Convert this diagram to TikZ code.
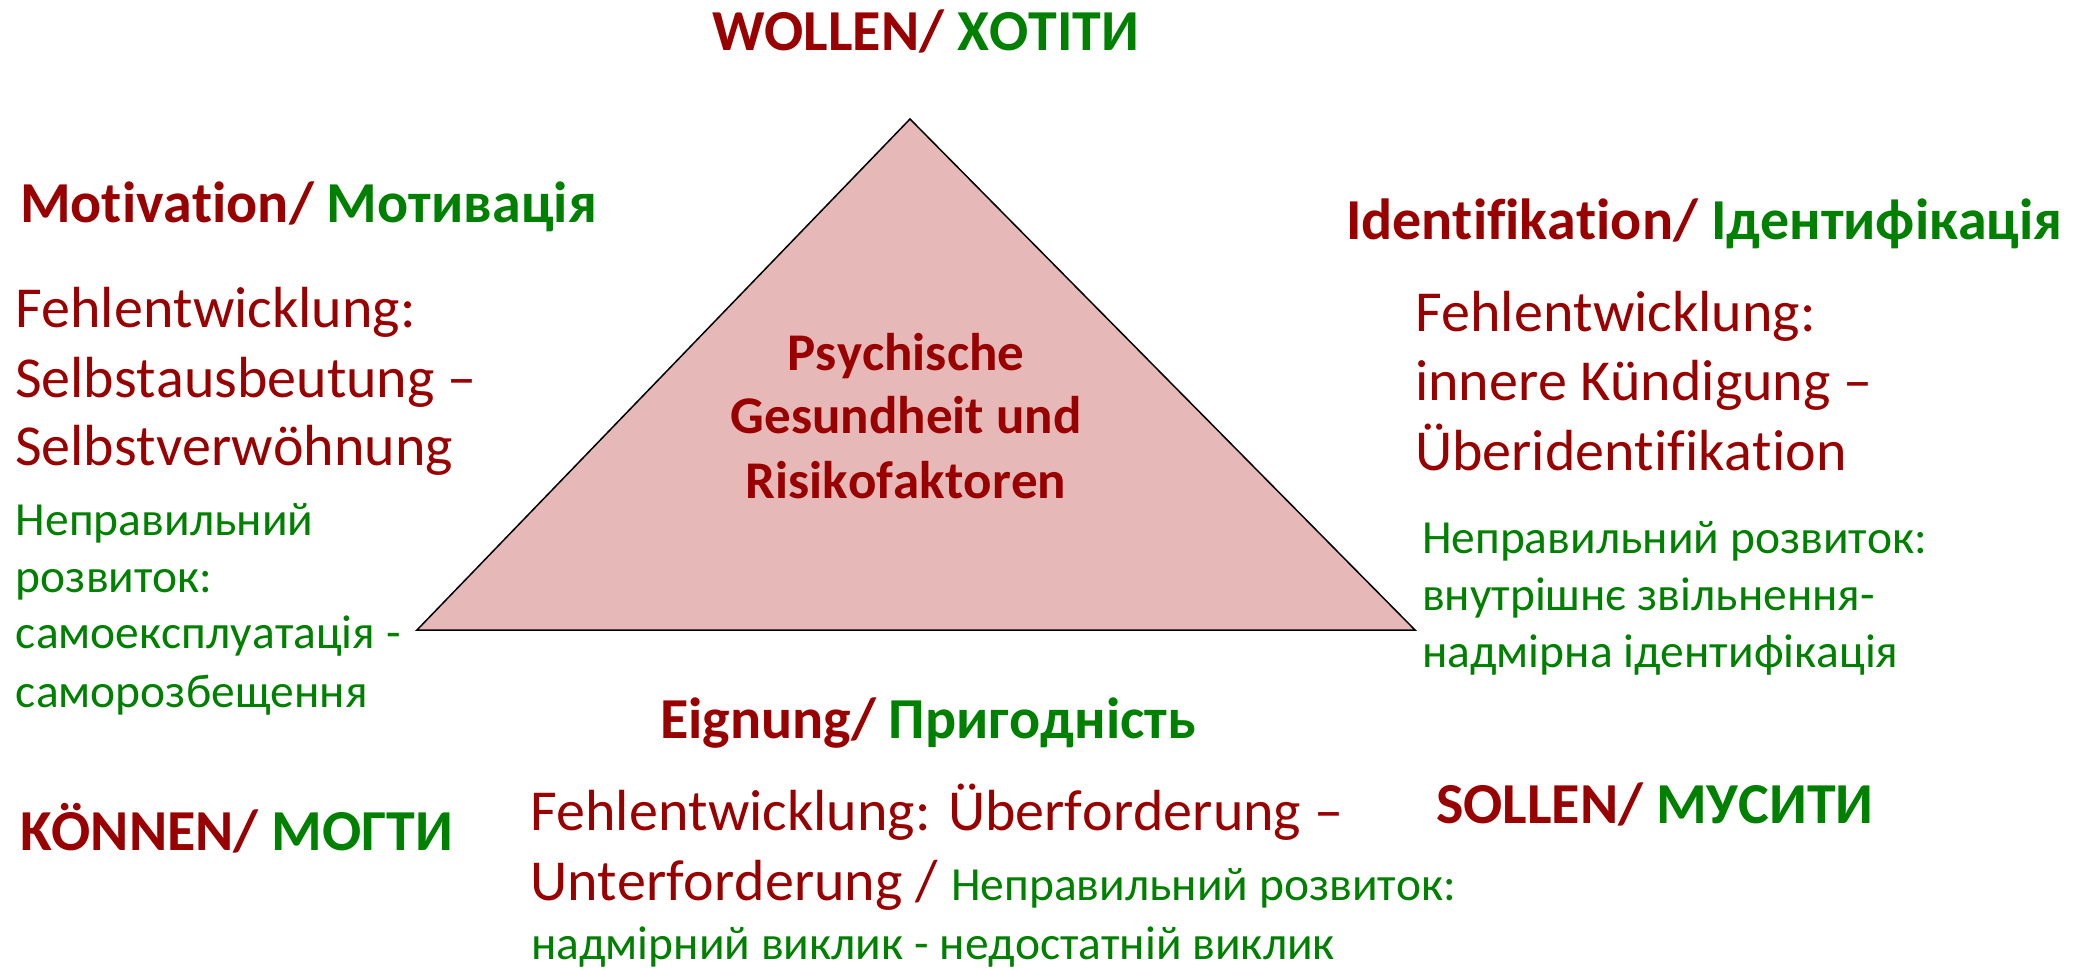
\documentclass[tikz,border=0pt]{standalone}
\usepackage{fontspec}
\setmainfont{Carlito}[Ligatures=CommonOff,Kerning=Off]
\definecolor{dred}{HTML}{990000}
\definecolor{dgreen}{HTML}{008000}
\definecolor{trifill}{HTML}{E6B8B7}
\begin{document}
\begin{tikzpicture}[x=1pt,y=-1pt,
  every node/.style={inner sep=0pt,outer sep=0pt,anchor=base west},
  head/.style={font=\fontsize{58}{70}\selectfont\bfseries},
  de/.style={font=\fontsize{58}{70}\selectfont,text=dred},
  ua/.style={font=\fontsize{47.5}{57}\selectfont,text=dgreen},
  core/.style={font=\fontsize{53}{64}\selectfont\bfseries,text=dred,anchor=base}]
\useasboundingbox (0,0) rectangle (2093,968);
\fill[white] (0,0) rectangle (2093,968);

% central triangle
\coordinate (apex) at (910,119);
\coordinate (bl) at (417,630);
\coordinate (br) at (1415,630);
\filldraw[fill=trifill,draw=black,line width=1.5pt,line join=miter] (apex) -- (br) -- (bl) -- cycle;

% text inside the triangle
\node[core] (c1) at (906,370) {Psychische};
\node[core] (c2) at (906,433) {Gesundheit und};
\node[core] (c3) at (906,498) {Risikofaktoren};

% corner headings
\node[head] (wollen) at (712,51) {\color{dred}WOLLEN/ \color{dgreen}ХОТІТИ};
\node[head] (koennen) at (20,850) {\color{dred}KÖNNEN/ \color{dgreen}МОГТИ};
\node[head] (sollen) at (1436,823) {\color{dred}SOLLEN/ \color{dgreen}МУСИТИ};

% left side: motivation
\node[head] (motiv) at (20,223) {\color{dred}Motivation/ \color{dgreen}Мотивація};
\node[de] (l1) at (15,327) {Fehlentwicklung:};
\node[de] (l2) at (15,397) {Selbstausbeutung –};
\node[de] (l3) at (15,465) {Selbstverwöhnung};
\node[ua] (lu1) at (16,535) {Неправильний};
\node[ua] (lu2) at (16,592) {розвиток:};
\node[ua] (lu3) at (16,648) {самоексплуатація -};
\node[ua] (lu4) at (16,707) {саморозбещення};

% right side: identification
\node[head] (ident) at (1346,240) {\color{dred}Identifikation/ \color{dgreen}Ідентифікація};
\node[de] (r1) at (1415,331) {Fehlentwicklung:};
\node[de] (r2) at (1415,400) {innere Kündigung –};
\node[de] (r3) at (1415,470) {Überidentifikation};
\node[ua] (ru1) at (1422,553) {Неправильний розвиток:};
\node[ua] (ru2) at (1422,610) {внутрішнє звільнення-};
\node[ua] (ru3) at (1422,667) {надмірна ідентифікація};

% bottom: aptitude
\node[head] (eign) at (660,738) {\color{dred}Eignung/ \color{dgreen}Пригодність};
\node[de] (b1) at (530,830) {Fehlentwicklung: Überforderung –};
\node[de] (b2) at (530,900) {Unterforderung / {\fontsize{47.5}{57}\selectfont\color{dgreen}Неправильний розвиток:}};
\node[ua] (b3) at (531,959) {надмірний виклик - недостатній виклик};
\end{tikzpicture}
\end{document}
